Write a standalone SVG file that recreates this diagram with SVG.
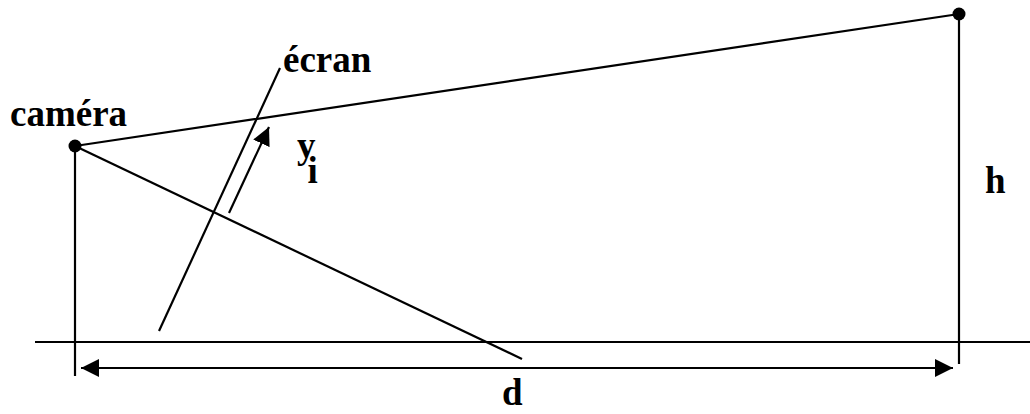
<svg xmlns="http://www.w3.org/2000/svg" width="1030" height="414" viewBox="0 0 1030 414">
<defs>
<style>
.l{stroke:#000;stroke-width:2.2;fill:none}
.t{font-family:"Liberation Serif","Times New Roman",serif;font-weight:bold;font-size:37px;fill:#000}
</style>
<marker id="ah" viewBox="0 0 18 18" refX="18" refY="9" markerWidth="18" markerHeight="18" markerUnits="userSpaceOnUse" orient="auto-start-reverse">
<path d="M0,0 L18,9 L0,18 Z" fill="#000"/>
</marker>
</defs>
<rect width="1030" height="414" fill="#fff"/>
<g id="connectors">
<line class="l" x1="75" y1="146" x2="959" y2="14"/>
<line class="l" x1="75" y1="146" x2="522" y2="359"/>
<line class="l" x1="75" y1="146" x2="75" y2="376"/>
<line class="l" x1="959" y1="14" x2="959" y2="364"/>
<line class="l" x1="35" y1="342" x2="1030" y2="342"/>
<line class="l" x1="159" y1="331" x2="280" y2="68"/>
<line class="l" x1="81" y1="368" x2="953" y2="368" marker-start="url(#ah)" marker-end="url(#ah)"/>
<line class="l" x1="229" y1="213" x2="269" y2="127" marker-end="url(#ah)"/>
</g>
<g id="camera">
<circle cx="75" cy="146" r="6.5" fill="#000"/>
<text class="t" x="10" y="126">caméra</text>
</g>
<g id="top">
<circle cx="959" cy="14" r="6.5" fill="#000"/>
</g>
<g id="ecran"><text class="t" x="283" y="72">écran</text></g>
<g id="yi"><text class="t" x="297" y="158">y<tspan dx="-8" dy="25">i</tspan></text></g>
<g id="h"><text class="t" x="985" y="193">h</text></g>
<g id="d"><text class="t" x="502" y="405">d</text></g>
</svg>
